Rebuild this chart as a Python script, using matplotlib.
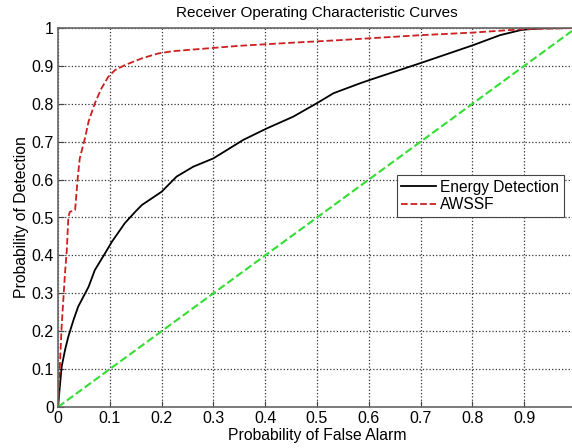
import matplotlib
matplotlib.use("Agg")
import matplotlib.pyplot as plt

plt.rcParams['font.family'] = ['Liberation Sans', 'DejaVu Sans']

# Energy detection ROC
ed_pfa = [0.0, 0.007, 0.0135, 0.020, 0.030, 0.039, 0.059, 0.071, 0.091, 0.104,
          0.129, 0.149, 0.162, 0.200, 0.229, 0.261, 0.300, 0.358, 0.403, 0.454,
          0.499, 0.532, 0.583, 0.602, 0.699, 0.802, 0.853, 0.895, 0.93, 1.0]
ed_pd = [0.0, 0.106, 0.150, 0.186, 0.230, 0.265, 0.317, 0.361, 0.406, 0.436,
         0.485, 0.515, 0.533, 0.568, 0.608, 0.634, 0.656, 0.705, 0.735, 0.766,
         0.801, 0.828, 0.854, 0.863, 0.907, 0.955, 0.981, 0.995, 0.999, 1.0]

# AWSSF ROC
aw_pfa = [0.0, 0.007, 0.0135, 0.017, 0.020, 0.023, 0.033, 0.038, 0.042, 0.052,
          0.059, 0.071, 0.084, 0.097, 0.110, 0.129, 0.162, 0.194, 0.223, 0.35,
          0.45, 0.544, 0.699, 0.802, 0.898, 1.0]
aw_pd = [0.0, 0.212, 0.353, 0.414, 0.502, 0.515, 0.520, 0.603, 0.656, 0.709,
         0.753, 0.801, 0.841, 0.871, 0.889, 0.902, 0.920, 0.933, 0.939, 0.953,
         0.961, 0.968, 0.981, 0.988, 0.997, 1.0]

# chance line
diag = [0.0, 1.0]

xtick_labels = ['0', '0.1', '0.2', '0.3', '0.4', '0.5', '0.6', '0.7', '0.8', '0.9', '']
ytick_labels = ['0', '0.1', '0.2', '0.3', '0.4', '0.5', '0.6', '0.7', '0.8', '0.9', '1']

fig = plt.figure(figsize=(5.72, 4.48), dpi=100)
ax = fig.add_axes([58 / 572, 41 / 448, 518 / 572, 379 / 448])

ax.plot(ed_pfa, ed_pd, color='black', linewidth=1.3, label='Energy Detection')
ax.plot(aw_pfa, aw_pd, color='#cc1f1f', linestyle='--', linewidth=1.3, label='AWSSF')
ax.plot(diag, diag, color='#33dd33', linestyle='--', linewidth=1.5)

ax.set_xlim(0, 1)
ax.set_ylim(0, 1)
ax.set_xticks([i / 10 for i in range(11)])
ax.set_yticks([i / 10 for i in range(11)])
ax.set_xticklabels(xtick_labels)
ax.set_yticklabels(ytick_labels)
ax.tick_params(direction='in', length=4, labelsize=11.5, pad=3, color='#444444')
ax.grid(True, linestyle=':', color='#333333', linewidth=0.9)
for s in ax.spines.values():
    s.set_color('#666666')
    s.set_linewidth(1.2)

ax.set_title('Receiver Operating Characteristic Curves', fontsize=11, pad=8)
ax.set_xlabel('Probability of False Alarm', fontsize=11.3, labelpad=1)
ax.set_ylabel('Probability of Detection', fontsize=11.3, labelpad=2)

leg = ax.legend(loc='upper left', bbox_to_anchor=(0.654, 0.612), fontsize=11.2,
                fancybox=False, framealpha=1, edgecolor='#444444',
                handlelength=2.2, borderpad=0.3, labelspacing=0.15,
                handletextpad=0.3, borderaxespad=0)
leg.get_frame().set_linewidth(0.8)

fig.savefig('out.png', dpi=100)
